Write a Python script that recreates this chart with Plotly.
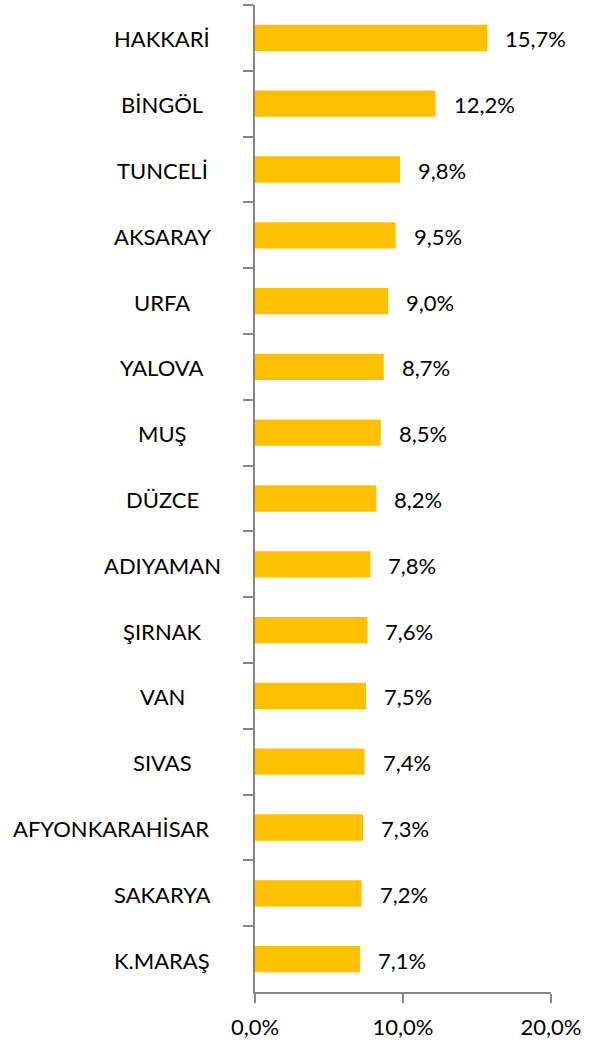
import plotly.graph_objects as go

categories = ["HAKKARİ", "BİNGÖL", "TUNCELİ", "AKSARAY", "URFA", "YALOVA", "MUŞ", "DÜZCE",
              "ADIYAMAN", "ŞIRNAK", "VAN", "SIVAS", "AFYONKARAHİSAR", "SAKARYA", "K.MARAŞ"]
values = [15.7, 12.2, 9.8, 9.5, 9.0, 8.7, 8.5, 8.2, 7.8, 7.6, 7.5, 7.4, 7.3, 7.2, 7.1]
x_ticks = [0, 10, 20]
x_tick_labels = ["0,0%", "10,0%", "20,0%"]

FONT = "Lato"
FS = 22
GRAY = "#868686"
W, H = 593, 1040
ML, MR, MT, MB = 255, 42, 5, 48
plot_w = W - ML - MR

def fmt(v):
    return f"{v:.1f}%".replace(".", ",")

fig = go.Figure(go.Bar(
    x=values, y=categories, orientation="h",
    marker=dict(color="#FFC000", line=dict(width=0)),
    hoverinfo="skip",
))

annotations = []
for c, v in zip(categories, values):
    annotations.append(dict(
        x=v, y=c, xref="x", yref="y", text=fmt(v), showarrow=False,
        xanchor="left", xshift=16, yshift=-1, font=dict(family=FONT, size=FS, color="#000000"),
    ))
    long_label = len(c) > 10
    annotations.append(dict(
        x=(211 - ML) / plot_w if long_label else (162 - ML) / plot_w,
        y=c, xref="paper", yref="y", text=c, showarrow=False,
        xanchor="right" if long_label else "center", yshift=-1,
        font=dict(family=FONT, size=FS, color="#000000"),
    ))

fig.update_layout(
    width=W, height=H,
    margin=dict(l=ML, r=MR, t=MT, b=MB, pad=0, autoexpand=False),
    paper_bgcolor="white", plot_bgcolor="white",
    bargap=0.6,
    showlegend=False,
    annotations=annotations,
    xaxis=dict(
        range=[0, 20], tickvals=x_ticks, ticktext=x_tick_labels,
        showgrid=False, zeroline=False, automargin=False,
        showline=True, linecolor=GRAY, linewidth=2,
        ticks="outside", ticklen=9, tickwidth=2, tickcolor=GRAY,
        ticklabelstandoff=6,
        tickfont=dict(family=FONT, size=FS, color="#000000"),
        fixedrange=True,
    ),
    yaxis=dict(
        categoryorder="array", categoryarray=categories, autorange="reversed",
        showgrid=False, zeroline=False, automargin=False,
        showline=True, linecolor=GRAY, linewidth=2,
        ticks="outside", tickson="boundaries", ticklen=10, tickwidth=2, tickcolor=GRAY,
        showticklabels=False,
        fixedrange=True,
    ),
)

fig.write_html(
    "out.html",
    config={"displayModeBar": False},
    post_script="document.body.style.margin='0';document.body.style.overflow='hidden';",
)
